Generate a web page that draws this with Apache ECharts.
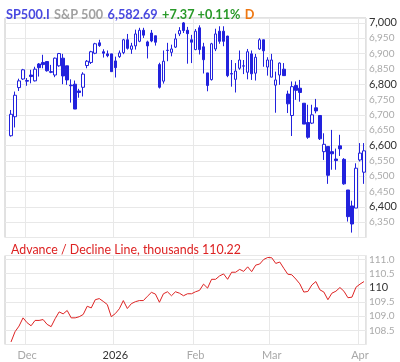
<!DOCTYPE html>
<html>
<head>
<meta charset="utf-8">
<script src="https://cdn.jsdelivr.net/npm/echarts@6/dist/echarts.min.js"></script>
<style>
html,body{margin:0;padding:0;background:#fff;}
#c{width:400px;height:362px;}
</style>
</head>
<body>
<div id="c"></div>
<script>
const dates = [
"2025-11-21","2025-11-24","2025-11-25","2025-11-26","2025-11-28",
"2025-12-01","2025-12-02","2025-12-03","2025-12-04","2025-12-05",
"2025-12-08","2025-12-09","2025-12-10","2025-12-11","2025-12-12",
"2025-12-15","2025-12-16","2025-12-17","2025-12-18","2025-12-19",
"2025-12-22","2025-12-23","2025-12-24","2025-12-26",
"2025-12-29","2025-12-30","2025-12-31",
"2026-01-02","2026-01-05","2026-01-06","2026-01-07","2026-01-08","2026-01-09",
"2026-01-12","2026-01-13","2026-01-14","2026-01-15","2026-01-16",
"2026-01-20","2026-01-21","2026-01-22","2026-01-23",
"2026-01-26","2026-01-27","2026-01-28","2026-01-29","2026-01-30",
"2026-02-02","2026-02-03","2026-02-04","2026-02-05","2026-02-06",
"2026-02-09","2026-02-10","2026-02-11","2026-02-12","2026-02-13",
"2026-02-17","2026-02-18","2026-02-19","2026-02-20",
"2026-02-23","2026-02-24","2026-02-25","2026-02-26","2026-02-27",
"2026-03-02","2026-03-03","2026-03-04","2026-03-05","2026-03-06",
"2026-03-09","2026-03-10","2026-03-11","2026-03-12","2026-03-13",
"2026-03-16","2026-03-17","2026-03-18","2026-03-19","2026-03-20",
"2026-03-23","2026-03-24","2026-03-25","2026-03-26","2026-03-27",
"2026-03-30","2026-03-31","2026-04-01","2026-04-02"
];
// first category (Nov 21) is empty
const opens = [null,
6632,6694,6789,6817,6812,6830,6811,6866,6871,6874,
6841,6830,6860,6885,6860,6797,6800,6778,6790,6861,
6871,6901,6935,6906,6899,6899,6876,6890,6903,6945,
6914,6925,6940,6976,6938,6967,6958,6864,6810,6910,
6904,6921,6964,7000,6976,6945,6913,6984,6922,6837,
6815,6915,6973,6973,6957,6833,6816,6852,6859,6839,
6899,6836,6915,6945,6856,6823,6797,6830,6849,6768,
6698,6796,6787,6738,6675,6673,6723,6698,6580,6597,
6580,6556,6599,6555,6455,6403,6396,6553,6513];
const closes = [null,
6702,6764,6811,6847,6810,6825,6849,6854,6864,6844,
6839,6885,6900,6827,6814,6795,6719,6773,6833,6875,
6906,6932,6926,6901,6893,6841,6854,6902,6945,6917,
6925,6964,6976,6960,6925,6941,6937,6790,6875,6911,
6915,6948,6975,6975,6965,6937,6973,6913,6880,6796,
6932,6964,6940,6940,6828,6835,6843,6879,6860,6906,
6834,6888,6945,6909,6879,6879,6814,6869,6828,6736,
6792,6780,6773,6670,6627,6700,6713,6622,6604,6503,
6573,6551,6589,6475,6368,6344,6526,6575.32,6582.69];
const lows = [null,
6629,6659,6778,6814,6795,6803,6809,6825,6852,6841,
6836,6823,6857,6800,6798,6740,6719,6756,6760,6852,
6866,6898,6922,6887,6888,6841,6822,6886,6898,6913,
6899,6913,6937,6951,6884,6937,6926,6786,6802,6875,
6891,6918,6957,6967,6867,6869,6911,6897,6835,6777,
6812,6908,6932,6924,6823,6792,6773,6847,6833,6816,
6814,6812,6912,6857,6828,6823,6707,6798,6828,6706,
6631,6749,6743,6670,6622,6670,6705,6618,6553,6475,
6521,6521,6566,6472,6352,6316,6396,6548,6475];
const highs = [null,
6716,6776,6818,6850,6820,6847,6857,6869,6896,6874,
6863,6887,6902,6899,6860,6816,6812,6785,6839,6879,
6909,6935,6945,6914,6910,6899,6890,6910,6948,6964,
6935,6978,6984,6984,6942,6977,6958,6870,6910,6935,
6929,6965,6986,7003,6987,6961,6980,6992,6935,6837,
6935,6981,6989,6989,6958,6879,6869,6910,6879,6915,
6910,6899,6950,6945,6888,6899,6841,6871,6869,6779,
6809,6809,6814,6738,6733,6733,6752,6698,6640,6597,
6651,6590,6635,6559,6455,6420,6542,6608,6608];
const adLine = [null,
108.09,108.45,108.65,108.94,108.77,108.66,108.85,108.85,108.88,108.71,
108.63,108.91,109.15,109.08,109.20,108.94,108.94,108.98,109.06,109.35,
109.29,109.58,109.62,109.52,109.41,108.98,109.09,109.26,109.55,109.27,
109.44,109.51,109.55,109.55,109.70,109.84,109.78,109.49,109.79,109.86,
109.72,109.86,109.81,109.72,109.79,109.79,109.86,109.91,110.13,109.99,
110.30,110.30,110.42,110.49,110.30,110.55,110.55,110.65,110.58,110.74,
110.57,110.80,110.84,111.00,111.07,111.06,110.86,110.91,110.69,110.48,
110.46,110.31,110.14,109.85,109.87,110.10,110.22,109.93,109.85,109.58,
109.81,109.88,110.01,109.88,109.65,109.67,110.02,110.13,110.22];
const monthLabels = {"2025-12-01":"Dec","2026-01-02":"2026","2026-02-02":"Feb","2026-03-02":"Mar","2026-04-01":"Apr"};
const priceTicks = {min:6300, max:7016, step:50};
const adTicks = {min:108.0, max:111.14, step:0.5};
const header = {sym:"SP500.I", name:"S&P 500", last:"6,582.69", chg:"+7.37", pct:"+0.11%", per:"D"};
const adTitle = "Advance / Decline Line, thousands 110.22";

const BLUE = '#2222dd';
const RED = '#dd2222';
const GRID = '#e8e8e8';
const FONT = 'Lato';

const candleData = dates.map((d,i)=> opens[i]==null ? '-' : [opens[i], closes[i], lows[i], highs[i]]);
const adData = adLine.map(v => v==null ? '-' : v);
const isMonth = (idx, val) => monthLabels.hasOwnProperty(val);

const chart = echarts.init(document.getElementById('c'), null, {renderer:'canvas'});
const xBase = {
  type:'category', data:dates, boundaryGap:true,
  axisLine:{show:false}, axisTick:{show:false},
  splitLine:{show:true, interval:isMonth, lineStyle:{color:GRID, width:1}}
};
const HF = 12.7;
chart.setOption({
  animation:false,
  textStyle:{fontFamily:FONT},
  title:[
    {left:1, top:1, text:`{a|${header.sym}} {b|${header.name}} {a|${header.last}} {c|${header.chg} ${header.pct}} {d|${header.per}}`,
     textStyle:{rich:{
       a:{color:'#4848e0', fontSize:HF, fontFamily:FONT},
       b:{color:'#a0a0a0', fontSize:HF, fontFamily:FONT},
       c:{color:'#2a9a2a', fontSize:HF, fontFamily:FONT},
       d:{color:'#ee7711', fontSize:HF, fontFamily:FONT}
     }}},
    {left:6, top:239, text:adTitle, textStyle:{color:RED, fontSize:12.4, fontWeight:'normal', fontFamily:FONT}}
  ],
  grid:[
    {left:5, top:18, width:361, height:219.5, show:true, borderColor:'#c4c4c4', borderWidth:1, backgroundColor:'transparent'},
    {left:5, top:255.5, width:361, height:89, show:true, borderColor:'#c4c4c4', borderWidth:1, backgroundColor:'transparent'}
  ],
  xAxis:[
    Object.assign({}, xBase, {gridIndex:0, axisLabel:{show:false}}),
    Object.assign({}, xBase, {gridIndex:1, axisLabel:{show:true, interval:isMonth, margin:5,
      formatter:(v)=> v==='2026-01-02' ? '{b|'+monthLabels[v]+'}' : '{a|'+(monthLabels[v]||'')+'}',
      rich:{a:{color:'#a8a8a8', fontSize:11, fontFamily:FONT}, b:{color:'#333', fontSize:11, fontFamily:FONT}}}})
  ],
  yAxis:[
    {type:'value', gridIndex:0, position:'right', min:priceTicks.min, max:priceTicks.max, interval:priceTicks.step,
     axisLine:{show:false}, axisTick:{show:false},
     splitLine:{lineStyle:{color:GRID, width:1}},
     axisLabel:{margin:3, showMinLabel:false, showMaxLabel:false,
       formatter:(v)=>{const s=Math.round(v).toLocaleString('en-US'); return (Math.round(v)%200===0)?'{b|'+s+'}':'{a|'+s+'}';},
       rich:{a:{color:'#aaaaaa', fontSize:10, fontFamily:FONT}, b:{color:'#333', fontSize:11, fontFamily:FONT}}}},
    {type:'value', gridIndex:1, position:'right', min:adTicks.min, max:adTicks.max, interval:adTicks.step,
     axisLine:{show:false}, axisTick:{show:false},
     splitLine:{lineStyle:{color:GRID, width:1}},
     axisLabel:{margin:3, showMinLabel:false, showMaxLabel:false,
       formatter:(v)=>{ if (Math.abs(v-110)<1e-6) return '{b|110}'; return '{a|'+v.toFixed(1)+'}';},
       rich:{a:{color:'#aaaaaa', fontSize:10, fontFamily:FONT}, b:{color:'#333', fontSize:11, fontFamily:FONT}}}}
  ],
  series:[
    {type:'candlestick', xAxisIndex:0, yAxisIndex:0, data:candleData, barWidth:3,
     itemStyle:{color:'#ffffff', color0:BLUE, borderColor:BLUE, borderColor0:BLUE, borderColorDoji:BLUE, borderWidth:1}},
    {type:'line', xAxisIndex:1, yAxisIndex:1, data:adData, symbol:'none', lineStyle:{color:RED, width:1}}
  ]
});
</script>
</body>
</html>
